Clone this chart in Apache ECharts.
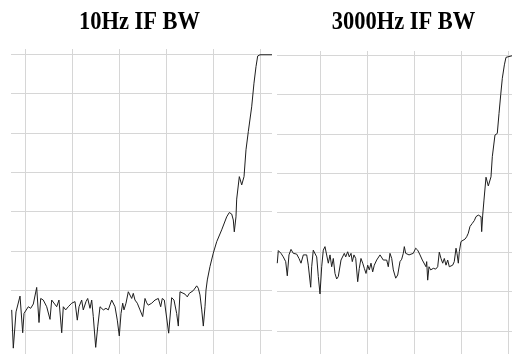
<!DOCTYPE html>
<html>
<head>
<meta charset="utf-8">
<script src="https://cdn.jsdelivr.net/npm/echarts@6/dist/echarts.min.js"></script>
<style>
  html, body { margin: 0; padding: 0; background: #fff; }
  #chart { width: 512px; height: 354px; }
</style>
</head>
<body>
<div id="chart"></div>
<script>
// Panel titles
const titles = ['10Hz IF BW', '3000Hz IF BW'];

// Filter response traces: frequency in grid divisions, level in dB
const narrowFreq = [
  -0.283, -0.249, -0.191, -0.106, -0.049, -0.021, 0.021, 0.070, 0.121, 0.177,
  0.213, 0.249, 0.298, 0.334, 0.389, 0.462, 0.532, 0.568, 0.602, 0.674,
  0.723, 0.781, 0.815, 0.866, 0.921, 0.994, 1.064, 1.113, 1.149, 1.206,
  1.240, 1.298, 1.334, 1.383, 1.419, 1.453, 1.504, 1.547, 1.596, 1.666,
  1.723, 1.772, 1.845, 1.879, 1.915, 1.964, 2.006, 2.043, 2.079, 2.106,
  2.149, 2.198, 2.234, 2.270, 2.304, 2.340, 2.389, 2.447, 2.504, 2.553,
  2.589, 2.623, 2.696, 2.766, 2.802, 2.836, 2.887, 2.921, 2.964, 3.000,
  3.057, 3.121, 3.170, 3.227, 3.262, 3.298, 3.334, 3.404, 3.453, 3.496,
  3.581, 3.653, 3.687, 3.723, 3.760, 3.794, 3.830, 3.851, 3.879, 3.936,
  4.006, 4.079, 4.185, 4.291, 4.347, 4.398, 4.432, 4.453, 4.489, 4.504,
  4.560, 4.611, 4.660, 4.702, 4.751, 4.787, 4.823, 4.872, 4.915, 4.951,
  5.000, 5.255
];
const narrowLevel = [
  -64.9, -74.6, -65.4, -61.4, -70.7, -65.8, -66.2, -64.1, -64.5, -63.4,
  -63.7, -59.2, -68.1, -62.0, -62.4, -64.1, -67.3, -62.4, -62.0, -64.1,
  -62.4, -70.7, -64.1, -64.9, -64.1, -63.2, -62.8, -67.5, -64.1, -62.4,
  -64.9, -62.8, -62.0, -64.5, -62.4, -66.6, -74.4, -69.2, -64.1, -64.9,
  -64.5, -64.9, -62.4, -62.0, -64.1, -67.5, -71.5, -65.8, -63.2, -64.9,
  -63.2, -60.3, -60.7, -62.0, -60.7, -62.4, -63.2, -64.9, -66.6, -62.0,
  -63.1, -63.7, -63.2, -62.4, -62.8, -62.0, -64.1, -62.0, -62.4, -62.0,
  -70.8, -61.8, -62.4, -65.8, -69.0, -60.3, -60.7, -60.9, -61.6, -60.7,
  -60.0, -58.8, -59.4, -61.1, -64.9, -69.0, -64.1, -59.9, -57.3, -53.9,
  -50.5, -47.6, -44.6, -41.3, -40.2, -40.6, -42.1, -45.1, -41.3, -36.8,
  -31.1, -33.2, -31.1, -24.3, -19.7, -19.3, -13.4, -7.4, -3.2, -0.5,
  -0.2, -0.2
];

const wideFreq = [
  0.091, 0.113, 0.170, 0.219, 0.270, 0.304, 0.340, 0.383, 0.432, 0.504,
  0.553, 0.596, 0.645, 0.681, 0.717, 0.751, 0.802, 0.823, 0.857, 0.894,
  0.930, 0.964, 1.000, 1.036, 1.070, 1.106, 1.143, 1.177, 1.213, 1.249,
  1.283, 1.319, 1.355, 1.389, 1.447, 1.483, 1.517, 1.547, 1.589, 1.623,
  1.660, 1.687, 1.723, 1.760, 1.802, 1.836, 1.872, 1.909, 1.943, 1.979,
  2.015, 2.049, 2.085, 2.121, 2.155, 2.206, 2.240, 2.277, 2.313, 2.347,
  2.383, 2.419, 2.453, 2.489, 2.526, 2.560, 2.611, 2.653, 2.702, 2.738,
  2.772, 2.794, 2.823, 2.857, 2.894, 2.936, 2.985, 3.036, 3.079, 3.128,
  3.177, 3.219, 3.255, 3.270, 3.291, 3.319, 3.355, 3.411, 3.462, 3.504,
  3.538, 3.574, 3.611, 3.645, 3.681, 3.717, 3.751, 3.787, 3.823, 3.857,
  3.894, 3.915, 3.943, 3.964, 4.000, 4.036, 4.085, 4.121, 4.155, 4.191,
  4.240, 4.283, 4.319, 4.368, 4.404, 4.426, 4.440, 4.462, 4.489, 4.532,
  4.581, 4.638, 4.666, 4.723, 4.772, 4.809, 4.845, 4.879, 4.923, 4.957,
  4.994, 5.085
];
const wideLevel = [
  -52.8, -49.6, -50.3, -51.2, -52.4, -56.0, -50.7, -49.3, -50.3, -50.5,
  -51.6, -52.8, -50.7, -50.3, -50.7, -53.3, -58.9, -53.7, -49.5, -49.0,
  -51.2, -56.2, -60.6, -53.7, -49.5, -48.6, -48.4, -52.8, -50.7, -53.7,
  -51.6, -55.4, -56.8, -56.2, -52.0, -51.6, -50.3, -51.2, -49.9, -51.2,
  -50.3, -52.4, -50.7, -51.6, -57.5, -54.1, -51.6, -52.8, -54.1, -55.4,
  -53.3, -54.5, -52.8, -55.0, -53.3, -52.0, -51.6, -50.7, -51.2, -52.0,
  -51.6, -52.0, -53.7, -50.3, -51.6, -54.5, -56.6, -55.8, -52.4, -51.8,
  -50.3, -48.6, -50.3, -49.9, -50.7, -51.2, -50.3, -49.0, -49.5, -50.7,
  -52.0, -52.4, -53.7, -52.4, -57.1, -53.7, -54.5, -54.1, -54.3, -53.7,
  -50.0, -51.6, -52.8, -51.6, -53.3, -52.0, -53.7, -53.5, -53.3, -52.4,
  -49.0, -50.3, -52.8, -49.9, -47.3, -46.9, -46.7, -46.1, -45.2, -43.5,
  -42.7, -42.0, -41.0, -40.6, -40.3, -41.0, -44.8, -40.6, -36.8, -31.0,
  -33.2, -30.9, -25.8, -20.3, -19.9, -14.8, -10.1, -5.9, -2.5, -0.6,
  -0.2, -0.2
];

// Axis scale settings
const LEVEL_MIN = -80, LEVEL_MAX = 0, LEVEL_STEP = 10;
const FREQ_LAST_LINE = 5;

// Layout (pixels)
const DIV_X = 47;      // width of one frequency division
const DIV_Y = 39.43;   // height of one 10 dB division
const GRID_COLOR = '#d6d6d6';
const TRACE_COLOR = '#1e1e1e';
const TITLE_Y = 22;

const panels = [
  { title: titles[0], titleX: 139.5, levelLeft: 11, levelWidth: 261, levelTop: 54,
    freqLeft: 25, freqTop: 49, firstLine: 0, freq: narrowFreq, level: narrowLevel },
  { title: titles[1], titleX: 403.5, levelLeft: 277, levelWidth: 235, levelTop: 55,
    freqLeft: 320, freqTop: 51, firstLine: 1, freq: wideFreq, level: wideLevel }
];

const hidden = { axisLine: { show: false }, axisTick: { show: false }, axisLabel: { show: false } };

const option = {
  animation: false,
  backgroundColor: '#ffffff',
  grid: [], xAxis: [], yAxis: [], series: [], graphic: []
};

panels.forEach(p => {
  // Pixel position of frequency 0 for this panel
  const zeroX = p.freqLeft - p.firstLine * DIV_X;

  // Level grid: horizontal 10 dB lines and the trace
  option.grid.push({ left: p.levelLeft, top: p.levelTop, width: p.levelWidth,
    height: (LEVEL_MAX - LEVEL_MIN) / LEVEL_STEP * DIV_Y, outerBoundsMode: 'none' });
  const g = option.grid.length - 1;
  option.xAxis.push(Object.assign({ gridIndex: g, type: 'value',
    min: (p.levelLeft - zeroX) / DIV_X,
    max: (p.levelLeft + p.levelWidth - zeroX) / DIV_X,
    splitLine: { show: false } }, hidden));
  option.yAxis.push(Object.assign({ gridIndex: g, type: 'value',
    min: LEVEL_MIN, max: LEVEL_MAX, interval: LEVEL_STEP,
    splitLine: { show: true, lineStyle: { color: GRID_COLOR, width: 1 } } }, hidden));
  option.series.push({
    type: 'line', xAxisIndex: g, yAxisIndex: g,
    data: p.freq.map((f, k) => [f, p.level[k]]),
    symbol: 'none', showSymbol: false, silent: true, clip: false,
    lineStyle: { color: TRACE_COLOR, width: 1 }
  });

  // Frequency grid: vertical division lines
  option.grid.push({ left: p.freqLeft, top: p.freqTop,
    width: (FREQ_LAST_LINE - p.firstLine) * DIV_X, height: 400, outerBoundsMode: 'none' });
  const f = option.grid.length - 1;
  option.xAxis.push(Object.assign({ gridIndex: f, type: 'value',
    min: p.firstLine, max: FREQ_LAST_LINE, interval: 1,
    splitLine: { show: true, lineStyle: { color: GRID_COLOR, width: 1 } } }, hidden));
  option.yAxis.push(Object.assign({ gridIndex: f, type: 'value', min: 0, max: 1,
    splitLine: { show: false } }, hidden));

  // Panel title
  option.graphic.push({
    type: 'text', x: p.titleX, y: TITLE_Y, scaleY: 1.15, silent: true,
    style: { text: p.title, font: 'bold 22.5px "Liberation Serif"', fill: '#000',
      align: 'center', verticalAlign: 'middle' }
  });
});

const chart = echarts.init(document.getElementById('chart'), null, { renderer: 'canvas' });
chart.setOption(option);
</script>
</body>
</html>
